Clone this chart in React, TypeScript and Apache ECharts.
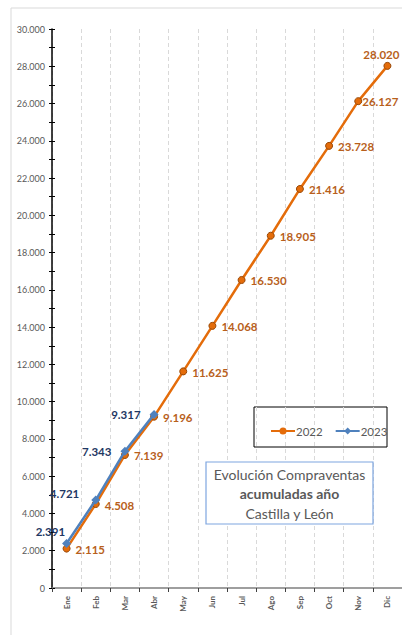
import React, { useEffect, useRef } from "react";
import * as echarts from "echarts";

const months = ["Ene", "Feb", "Mar", "Abr", "May", "Jun", "Jul", "Ago", "Sep", "Oct", "Nov", "Dic"];
const values2022 = [2115, 4508, 7139, 9196, 11625, 14068, 16530, 18905, 21416, 23728, 26127, 28020];
const values2023 = [2391, 4721, 7343, 9317];
const seriesNames = ["2022", "2023"];
const titleLines = ["Evolución Compraventas", "acumuladas año", "Castilla y León"];

const FONT = "Lato, 'Liberation Sans', sans-serif";
const fmt = (v: number) => String(Math.round(v)).replace(/\B(?=(\d{3})+(?!\d))/g, ".");

const ICON_CIRCLE =
  "path://M0 2.5H10V4.5H0Z M14 2.5H24V4.5H14Z M8.5 3.5A3.5 3.5 0 1 1 15.5 3.5A3.5 3.5 0 1 1 8.5 3.5Z";
const ICON_DIAMOND =
  "path://M0 2.5H10V4.5H0Z M14 2.5H24V4.5H14Z M12 0L15.5 3.5L12 7L8.5 3.5Z";

export default function App() {
  const ref = useRef<HTMLDivElement>(null);
  useEffect(() => {
    if (!ref.current) return;
    const chart = echarts.init(ref.current, null, { renderer: "svg" });
    const orange = "#E46C0A";
    const orangeLbl = "#B85F1C";
    const blue = "#4F81BD";
    const blueLbl = "#1F3864";

    const d2022 = values2022.map((v, i) => {
      const last = i === values2022.length - 1;
      let offset: number[] = [0, 1];
      if (i === 10) offset = [-5, 0];
      return {
        value: v,
        label: last
          ? { position: "top", offset: [-6, 4] }
          : { position: "right", offset },
      };
    });
    const off2023 = [[8, -12], [-7, -7], [-4, 0], [-4, 0]];
    const d2023 = months.map((_, i) =>
      i < values2023.length
        ? { value: values2023[i], label: { position: "left", offset: off2023[i] } }
        : null
    );

    const tcx = 289.5;
    const titleStyle = { fontFamily: FONT, fontSize: 14, fill: "#595959", align: "center", verticalAlign: "middle" };
    chart.setOption({
      animation: false,
      backgroundColor: "#fff",
      grid: { left: 52, top: 29, width: 352, height: 559 },
      legend: {
        show: true,
        left: 266,
        top: 420,
        itemWidth: 24,
        itemHeight: 7,
        itemGap: 13,
        data: [
          { name: seriesNames[0], icon: ICON_CIRCLE, itemStyle: { color: orange, borderWidth: 0 } },
          { name: seriesNames[1], icon: ICON_DIAMOND, itemStyle: { color: blue, borderWidth: 0 } },
        ],
        textStyle: { fontFamily: FONT, fontSize: 11.5, color: "#595959", padding: [0, 0, 0, -4] },
      },
      xAxis: {
        type: "category",
        data: months,
        boundaryGap: true,
        axisLine: { show: true, lineStyle: { color: "#7F7F7F", width: 1.5 } },
        axisTick: { show: true, interval: 0, length: 4, lineStyle: { color: "#404040" } },
        axisLabel: {
          interval: 0,
          rotate: 90,
          margin: 8,
          fontFamily: FONT,
          fontSize: 8,
          fontWeight: "bold",
          color: "#595959",
        },
        splitLine: { show: true, interval: 0, lineStyle: { color: "#D9D9D9", type: [4, 3], width: 1 } },
      },
      yAxis: [
        {
          type: "value",
          min: 0,
          max: 30000,
          interval: 2000,
          axisLine: { show: true, lineStyle: { color: "#000", width: 1.5 } },
          axisTick: { show: true, length: 3, lineStyle: { color: "#000" } },
          minorTick: { show: true, splitNumber: 2, length: 3, lineStyle: { color: "#000" } },
          splitLine: { show: false },
          axisLabel: {
            formatter: (v: number) => fmt(v),
            margin: 7,
            fontFamily: FONT,
            fontSize: 9,
            color: "#595959",
          },
        },
        {
          type: "value",
          position: "left",
          min: 0,
          max: 30000,
          interval: 2000,
          axisLine: { show: false },
          axisTick: { show: true, inside: true, length: 3, lineStyle: { color: "#000" } },
          minorTick: { show: true, splitNumber: 2, length: 3, lineStyle: { color: "#000" } },
          splitLine: { show: false },
          axisLabel: { show: false },
        },
      ],
      series: [
        {
          name: seriesNames[0],
          type: "line",
          data: d2022,
          symbol: "circle",
          symbolSize: 7,
          lineStyle: { color: orange, width: 2.5 },
          itemStyle: { color: orange, borderColor: "#984807", borderWidth: 1 },
          label: {
            show: true,
            formatter: (p: any) => fmt(p.value),
            fontFamily: FONT,
            fontSize: 11.5,
            fontWeight: "bold",
            color: orangeLbl,
          },
          z: 2,
        },
        {
          name: seriesNames[1],
          type: "line",
          data: d2023,
          symbol: "diamond",
          symbolSize: 9,
          lineStyle: { color: blue, width: 2.5 },
          itemStyle: { color: blue },
          label: {
            show: true,
            formatter: (p: any) => fmt(p.value),
            fontFamily: FONT,
            fontSize: 11.5,
            fontWeight: "bold",
            color: blueLbl,
          },
          z: 3,
        },
      ],
      graphic: [
        {
          type: "rect",
          shape: { x: 11, y: 8, width: 420, height: 660 },
          style: { fill: "none", stroke: "#D9D9D9", lineWidth: 1 },
          silent: true,
          z: -10,
        },
        {
          type: "rect",
          shape: { x: 254, y: 407, width: 133, height: 40 },
          style: { fill: "#fff", stroke: "#000", lineWidth: 1 },
          z: -1,
        },
        {
          type: "rect",
          shape: { x: 206, y: 462, width: 167, height: 62 },
          style: { fill: "#fff", stroke: "#7EA6E0", lineWidth: 1.2 },
          z: 10,
        },
        { type: "text", x: tcx, y: 474, z: 11, style: { ...titleStyle, text: titleLines[0] } },
        { type: "text", x: tcx, y: 493, z: 11, style: { ...titleStyle, text: titleLines[1], fontWeight: "bold" } },
        { type: "text", x: tcx, y: 513, z: 11, style: { ...titleStyle, text: titleLines[2] } },
      ],
    });
    return () => chart.dispose();
  }, []);
  return (
    <div
      ref={ref}
      style={{ position: "fixed", left: 0, top: 0, width: 402, height: 635 }}
    />
  );
}
